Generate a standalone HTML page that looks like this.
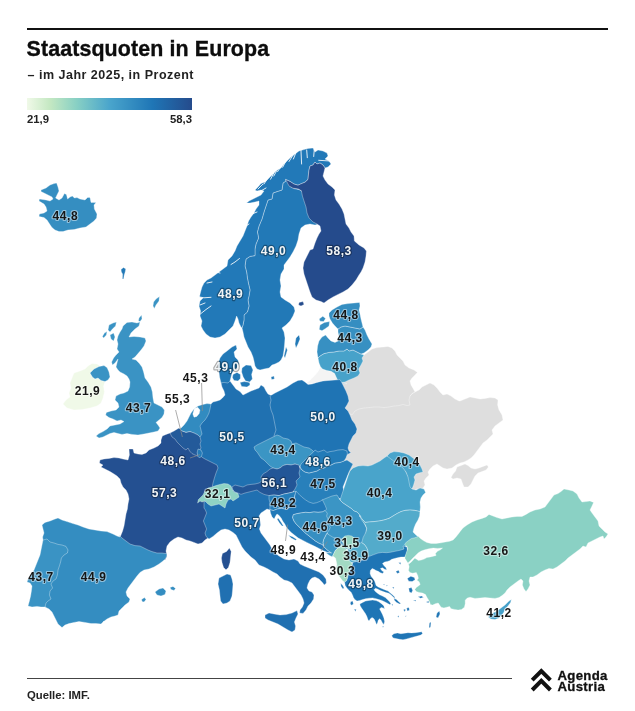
<!DOCTYPE html>
<html lang="de"><head><meta charset="utf-8"><title>Staatsquoten in Europa</title>
<style>
html,body{margin:0;padding:0;background:#fff;}
body{width:635px;height:711px;position:relative;overflow:hidden;font-family:"Liberation Sans","DejaVu Sans",sans-serif;color:#111;}
.rule{position:absolute;left:27px;top:28px;width:581px;height:2px;background:#111;}
h1{position:absolute;left:26.5px;top:37px;margin:0;font-size:21.4px;line-height:24px;font-weight:700;letter-spacing:.12px;color:#0d0d0d;white-space:nowrap;-webkit-text-stroke:.35px #0d0d0d;}
.sub{position:absolute;left:27.5px;top:68px;font-size:12.5px;line-height:14px;font-weight:700;letter-spacing:.5px;color:#222;white-space:nowrap;}
.bar{position:absolute;left:26.5px;top:97.5px;width:165.5px;height:12.5px;background:linear-gradient(90deg,#f0f9e8 0%,#c4e8c2 14%,#88d0c4 30%,#4aa5cc 50%,#1f76b6 76%,#254b8c 100%);}
.lmin,.lmax{position:absolute;top:112.5px;font-size:11.3px;line-height:13px;font-weight:700;color:#222;}
.lmin{left:27px;}
.lmax{left:140px;width:52px;text-align:right;}
.frule{position:absolute;left:27px;top:678px;width:485px;height:1px;background:#444;}
.src{position:absolute;left:27px;top:689px;font-size:11.3px;line-height:13px;font-weight:700;color:#222;white-space:nowrap;}
.logo{position:absolute;left:529px;top:665px;width:90px;height:32px;}
.brand{position:absolute;left:557.5px;top:669.6px;font-size:13.2px;line-height:11.2px;font-weight:700;color:#111;letter-spacing:.3px;-webkit-text-stroke:.3px #111;}
svg.map{position:absolute;left:0;top:0;}
svg.map path{stroke:#fff;stroke-opacity:.55;stroke-width:.6;stroke-linejoin:round;}
svg.map polyline.fj{fill:none;stroke:#fff;stroke-width:1;stroke-opacity:.85;stroke-linecap:round;}
svg.map line{stroke:#8a8a8a;stroke-width:.7;}
svg.map text{font-family:"Liberation Sans","DejaVu Sans",sans-serif;font-weight:700;font-size:12px;letter-spacing:.55px;text-anchor:middle;paint-order:stroke fill;stroke-linejoin:round;}
svg.map text.ld{fill:#161616;stroke:#fff;stroke-width:2.2px;stroke-opacity:.45;}
svg.map text.ll{fill:#f1f4f6;stroke:#000;stroke-width:2.4px;stroke-opacity:.33;}
</style></head><body>
<div class="rule"></div>
<h1>Staatsquoten in Europa</h1>
<div class="sub">– im Jahr 2025, in Prozent</div>
<div class="bar"></div><div class="lmin">21,9</div><div class="lmax">58,3</div>
<svg class="map" width="635" height="711" viewBox="0 0 635 711">
<g>
<path d="M41.0,190.0L46.0,188.0L50.0,185.0L54.0,183.6L56.6,183.0L58.0,187.0L59.0,191.0L57.0,195.0L55.6,198.0L59.0,200.0L62.0,198.0L64.4,193.6L66.4,194.4L67.6,199.0L70.0,197.0L72.4,196.0L74.4,198.0L77.0,197.6L80.0,199.0L85.0,200.0L87.6,197.4L90.0,197.4L91.0,202.4L96.0,202.4L94.0,205.0L94.4,209.0L97.0,214.0L96.6,218.0L94.0,221.0L90.0,224.0L86.0,227.0L80.0,228.0L74.0,229.6L68.0,230.0L63.0,231.6L59.0,231.6L55.0,230.0L52.0,227.6L49.6,224.0L47.0,220.0L44.0,217.6L39.0,216.4L39.4,214.0L44.0,213.0L47.0,211.0L46.0,207.0L44.0,204.0L39.0,201.0L39.4,199.0L46.0,200.0L50.0,201.0L53.0,199.0L52.0,197.0L48.0,195.0L44.0,193.0L41.0,191.6Z" fill="#358ec1"/>
<path d="M92.0,363.6L97.0,364.0L100.0,366.0L94.0,369.0L90.0,373.0L92.4,377.0L95.0,379.0L98.0,378.0L101.0,380.4L105.0,381.6L103.6,386.0L104.4,392.0L103.0,398.0L101.0,403.0L97.0,406.0L90.0,408.0L82.0,409.6L74.0,410.0L67.0,408.0L63.0,404.0L66.0,400.0L70.0,397.0L69.0,393.0L71.0,388.0L70.0,383.0L72.0,378.0L74.0,373.0L80.0,371.0L85.0,369.0L88.0,366.0Z" fill="#f0f9e8"/>
<path d="M123.0,326.0L127.0,322.4L132.0,322.0L137.0,323.0L140.0,322.0L139.0,326.0L135.0,329.0L131.0,333.0L129.0,337.0L134.0,336.4L140.0,337.0L145.0,338.0L146.0,341.0L144.0,346.0L141.0,350.0L138.0,353.6L135.0,357.0L132.0,359.0L136.0,360.0L139.0,363.0L142.0,367.0L143.6,372.0L145.0,378.0L148.0,382.0L151.0,387.0L152.4,392.0L153.0,398.0L154.0,403.0L158.0,405.0L162.0,407.0L164.4,410.0L164.0,414.0L162.0,417.6L159.0,420.0L156.0,422.4L158.0,425.0L160.0,428.0L158.0,431.0L154.0,432.0L149.0,433.0L144.0,434.0L138.0,435.0L132.0,434.4L127.0,433.6L122.0,434.4L118.0,433.6L114.0,432.4L110.0,433.6L107.0,435.0L103.0,437.0L99.0,438.0L96.0,436.0L99.0,433.6L103.0,431.6L107.0,429.0L110.0,426.0L115.0,425.0L120.0,424.0L124.0,421.6L121.0,420.0L117.0,421.0L113.0,419.0L109.0,417.6L105.6,415.0L106.4,412.4L111.0,411.0L116.0,410.0L119.0,407.0L118.0,403.0L115.0,400.0L116.0,396.0L120.0,394.0L124.0,393.0L128.0,391.0L129.6,387.0L130.0,382.0L129.0,379.0L127.0,376.0L124.0,374.0L120.0,372.0L118.0,370.0L116.0,367.0L117.0,363.0L118.0,359.0L115.0,363.0L112.4,365.0L111.6,362.0L113.6,358.0L116.0,355.0L119.0,352.0L117.0,349.0L118.0,344.0L117.0,340.0L118.0,336.0L120.0,332.0L122.0,329.0Z M156.0,299.0L159.4,296.6L159.0,301.0L156.0,305.0L154.4,308.4L153.0,306.0L153.6,302.0Z M139.0,318.0L141.6,315.0L142.0,319.0L140.0,321.6L138.4,321.0Z M109.0,325.0L113.0,323.0L116.4,322.0L115.6,326.0L112.4,329.0L110.0,332.0L108.0,330.0Z M104.4,333.0L107.0,331.6L106.4,335.0L103.6,338.0L102.4,336.4Z M110.0,335.0L113.6,333.0L115.0,337.0L113.6,341.0L111.0,339.0Z M90.0,373.0L94.0,369.0L99.0,366.6L104.0,365.6L107.0,367.6L109.0,372.0L110.0,377.0L108.0,380.0L105.0,381.6L101.0,380.4L98.0,378.0L95.0,379.0L92.4,377.0Z" fill="#3a93c4"/>
<path d="M286.0,179.0L287.0,180.8L290.0,186.4L294.0,188.6L299.0,189.6L302.0,191.2L303.4,196.0L305.0,201.0L307.0,207.0L308.0,213.0L310.0,218.0L314.0,221.6L318.0,223.6L317.0,224.4L315.0,225.0L310.0,224.0L305.0,225.0L301.0,228.0L299.0,234.0L298.0,240.0L296.0,246.0L293.0,252.0L290.0,257.0L287.0,261.0L284.0,265.0L284.0,269.0L281.0,274.0L280.0,280.0L281.0,286.0L280.0,292.0L281.0,297.0L285.0,300.0L290.0,303.0L294.0,307.0L295.0,311.0L293.0,316.0L290.0,321.0L286.0,325.0L282.0,328.0L284.0,332.0L285.0,338.0L284.6,344.0L284.0,350.0L283.0,356.0L281.0,360.0L279.0,362.0L275.0,364.0L272.0,365.0L269.0,368.0L264.0,369.0L260.0,370.0L257.0,369.0L255.0,366.0L254.0,361.0L253.0,357.0L251.0,352.0L248.0,347.0L246.0,342.0L244.0,337.0L243.0,332.0L242.0,328.0L243.0,325.0L244.0,320.0L244.0,315.0L247.4,312.0L249.0,306.0L248.0,300.0L249.0,296.0L250.0,290.0L248.6,284.0L247.4,278.0L246.6,272.0L245.0,266.0L246.0,259.0L250.0,256.4L255.0,255.6L255.0,250.0L255.0,249.0L256.0,244.0L258.6,238.0L257.4,232.0L259.0,226.0L262.0,219.0L264.0,212.0L266.0,206.0L268.0,200.0L272.0,199.0L273.0,193.0L277.0,191.6L282.0,190.0L283.0,183.0L286.0,181.0Z M296.0,338.0L299.0,335.0L300.0,339.0L298.0,344.0L296.0,348.0L295.0,344.0Z M286.0,347.0L287.4,350.0L285.0,358.0L284.0,356.0Z" fill="#2279b7"/>
<path d="M325.0,168.0L328.0,167.0L331.0,164.0L329.0,161.0L325.0,159.0L328.0,156.0L327.0,153.0L323.0,151.0L318.0,150.0L315.0,152.0L313.0,148.0L308.0,148.4L304.0,149.6L299.0,151.0L295.0,154.0L291.0,157.0L287.0,161.0L284.0,164.0L281.0,168.0L277.0,170.0L274.0,173.0L271.0,176.0L268.0,179.0L265.0,182.0L261.0,183.6L258.0,187.0L255.0,190.0L257.0,191.0L261.0,190.0L264.0,191.0L261.0,195.0L257.0,197.0L253.0,199.0L249.0,201.0L246.6,203.0L250.0,203.0L255.0,202.0L259.0,201.0L259.0,205.0L256.0,209.0L254.0,213.0L251.0,217.0L248.6,221.0L247.0,226.0L245.0,231.0L243.0,236.0L240.0,241.0L237.0,246.0L235.0,251.0L232.0,256.0L228.0,260.0L227.0,266.0L223.0,269.0L219.0,272.0L215.0,275.0L211.0,278.0L207.0,280.0L204.0,283.0L202.0,287.0L200.6,292.0L199.4,297.0L203.0,298.0L200.0,301.0L199.0,306.0L200.6,311.0L200.0,316.0L202.0,321.0L201.0,326.0L203.0,330.0L206.0,334.0L210.0,337.0L215.0,338.0L220.0,337.0L225.0,334.0L229.0,330.0L233.0,326.0L235.0,321.0L236.6,316.0L238.0,319.0L239.0,323.0L241.0,327.0L242.0,328.0L243.0,325.0L244.0,320.0L244.0,315.0L247.4,312.0L249.0,306.0L248.0,300.0L249.0,296.0L250.0,290.0L248.6,284.0L247.4,278.0L246.6,272.0L245.0,266.0L246.0,259.0L250.0,256.4L255.0,255.6L255.0,250.0L255.0,249.0L256.0,244.0L258.6,238.0L257.4,232.0L259.0,226.0L262.0,219.0L264.0,212.0L266.0,206.0L268.0,200.0L272.0,199.0L273.0,193.0L277.0,191.6L282.0,190.0L283.0,183.0L286.0,181.0L285.6,179.4L290.0,181.4L294.0,184.0L298.0,185.2L301.0,183.8L305.0,182.2L308.0,179.4L308.4,175.0L309.0,170.0L310.0,166.0L313.0,165.0L315.0,162.0L317.0,164.0L320.0,163.0L323.0,165.0Z" fill="#2279b8"/>
<path d="M285.6,179.4L290.0,181.4L294.0,184.0L298.0,185.2L301.0,183.8L305.0,182.2L308.0,179.4L308.4,175.0L309.0,170.0L310.0,166.0L313.0,165.0L315.0,162.0L317.0,164.0L320.0,163.0L323.0,165.0L325.0,168.0L324.0,172.0L323.0,176.0L325.0,180.0L328.0,184.0L332.0,187.0L335.0,190.0L334.4,195.0L336.0,200.0L339.0,204.0L342.0,209.0L344.0,214.0L345.0,219.0L346.0,224.0L349.0,228.0L351.0,232.0L354.0,236.0L354.4,241.0L359.0,245.0L364.0,248.0L366.4,251.0L366.0,256.0L365.0,262.0L363.0,268.0L361.0,272.0L359.0,275.0L356.0,280.0L352.0,285.0L348.0,289.0L343.0,292.0L338.0,294.4L333.0,297.0L328.0,300.0L324.0,303.0L321.0,301.6L316.0,300.0L312.0,297.0L310.0,292.0L308.0,286.0L306.0,280.0L304.0,274.0L303.0,268.0L304.0,262.0L307.0,256.0L310.0,250.0L313.0,249.0L315.0,243.0L317.0,238.0L319.0,234.0L321.0,231.0L320.0,226.0L317.0,224.0L313.0,222.0L309.0,218.0L307.0,213.0L306.0,207.0L304.0,201.0L302.4,196.0L301.4,190.8L298.4,189.0L293.0,188.2L289.0,186.0Z M299.0,302.4L303.0,301.6L304.0,304.4L301.0,306.0L298.6,305.0Z" fill="#254b8c"/>
<path d="M347.0,414.0L351.0,404.0L407.0,398.0L410.0,396.0L412.0,393.6L415.0,392.0L419.0,390.0L422.0,387.0L426.0,385.0L430.0,383.0L434.0,385.0L437.0,388.0L440.0,392.0L443.0,395.0L447.0,394.0L451.0,396.0L455.0,399.0L459.0,401.0L460.0,401.0L465.0,399.0L470.0,397.0L475.0,398.0L480.0,399.0L485.0,398.4L490.0,397.6L495.0,398.0L498.0,400.0L497.6,405.0L499.0,410.0L502.0,415.0L503.0,420.0L499.0,423.0L495.0,426.0L492.0,430.0L493.0,434.0L490.0,437.0L487.0,440.0L483.0,443.0L480.0,447.0L477.0,451.0L474.0,455.0L471.0,458.0L468.0,460.0L464.0,462.0L460.0,463.0L456.0,465.0L452.0,468.0L447.0,469.0L443.0,468.0L440.0,466.0L437.0,464.0L433.0,466.0L430.0,469.0L428.0,472.0L429.0,475.0L426.0,478.0L424.0,481.0L425.0,485.0L423.0,488.0L420.0,490.0L417.0,489.0L414.0,490.0L410.0,488.0L395.0,470.0L360.0,480.0L340.0,470.0Z M457.0,467.0L461.0,465.6L465.0,464.0L468.0,465.6L471.0,468.0L475.0,469.0L479.0,468.0L483.0,466.4L487.0,465.0L488.4,467.0L486.0,470.0L482.0,471.6L478.0,473.0L475.0,476.0L473.0,480.0L471.0,484.0L468.0,487.0L464.0,487.0L462.4,483.0L461.0,479.0L457.0,478.0L453.0,479.0L451.0,477.6L453.0,474.0L455.6,471.0Z" fill="#dedede"/>
<path d="M364.0,355.0L368.0,352.0L372.0,349.0L377.0,347.6L383.0,347.0L388.0,346.4L392.0,348.0L395.0,351.0L397.0,355.0L400.0,358.0L403.0,361.0L405.0,365.0L409.0,368.0L414.0,370.0L417.4,372.4L415.0,375.0L412.0,378.0L410.0,381.0L411.0,385.0L413.4,389.0L415.0,392.0L412.0,393.6L410.0,396.0L409.0,400.0L410.0,405.0L407.0,405.6L403.0,404.4L399.0,405.6L394.0,406.0L389.0,407.0L384.0,407.6L379.0,407.0L374.0,407.0L369.0,407.6L364.0,408.0L359.0,409.0L355.0,411.0L352.0,415.0L343.0,410.0L341.0,384.0L355.0,356.0Z" fill="#dedede"/>
<path d="M320.5,367.0L322.6,369.1L326.8,370.5L331.1,371.3L334.6,373.4L336.1,376.9L337.5,379.8L338.2,381.9L325.4,381.9L312.7,383.7L305.6,383.7L309.8,380.5L314.1,376.2L318.3,371.3Z" fill="#f4f4f4"/>
<path d="M318.0,358.0L320.0,356.0L324.0,353.6L329.0,352.4L334.0,352.0L339.0,351.0L344.0,351.0L347.0,349.0L349.0,351.0L353.0,350.0L357.0,352.0L361.0,354.0L364.0,355.0L362.0,358.0L363.0,361.0L361.0,365.0L358.6,369.0L360.0,373.0L358.0,376.0L354.0,378.0L349.0,380.0L345.0,382.0L342.0,382.4L346.7,383.7L343.1,383.3L339.6,381.9L337.5,379.8L336.1,376.9L334.6,373.4L331.1,371.3L326.8,370.5L322.6,369.1L320.5,367.0L321.0,368.0L319.0,363.0Z" fill="#47a2ca"/>
<path d="M338.0,329.0L341.0,327.0L345.0,326.0L350.0,327.0L355.0,328.0L360.0,329.0L363.0,327.0L365.0,330.0L367.0,335.0L369.0,339.0L372.0,344.0L371.0,347.0L368.0,350.0L364.0,353.0L361.0,354.0L357.0,352.0L353.0,350.0L349.0,351.0L347.0,349.0L344.0,351.0L339.0,351.0L334.0,352.0L329.0,352.4L324.0,353.6L320.0,356.0L318.0,358.0L317.0,352.0L317.6,346.0L319.0,341.0L322.0,337.0L325.6,335.0L328.0,338.0L331.0,341.0L335.0,342.4L338.0,341.0L339.0,337.0L338.0,332.0Z" fill="#3790c2"/>
<path d="M329.0,313.0L332.0,310.0L337.0,307.0L342.0,304.4L348.0,303.6L354.0,303.0L359.6,302.4L360.0,306.0L359.0,310.0L360.0,314.0L361.0,319.0L362.0,323.0L363.0,327.0L360.0,329.0L355.0,328.0L350.0,327.0L345.0,326.0L341.0,327.0L338.0,329.0L335.0,326.0L332.4,323.0L330.0,319.0L329.0,316.0Z M319.2,319.0L322.8,316.2L325.6,318.6L323.6,321.6L320.0,321.2Z M320.0,325.0L324.4,322.4L329.6,321.6L329.0,326.0L325.6,328.4L322.0,330.8L319.2,329.4Z" fill="#358ec1"/>
<path d="M221.0,383.0L222.0,387.0L224.0,391.0L225.0,395.0L222.4,398.0L220.0,400.0L217.0,401.0L213.0,402.0L211.0,404.0L200.0,406.0L190.0,436.0L194.0,452.0L190.0,490.0L215.0,495.0L240.0,495.0L290.0,480.0L295.0,460.0L270.0,450.0L280.0,435.0L285.0,420.0L280.0,395.0L270.0,395.0L268.0,394.0L266.0,391.0L264.0,387.0L261.0,385.0L259.0,388.0L255.0,389.6L251.0,391.0L247.0,393.0L243.0,395.0L240.0,391.6L236.0,389.0L233.0,385.0L230.0,381.0L224.0,381.0Z" fill="#2071b1"/>
<path d="M170.0,433.0L176.0,435.0L190.0,446.0L199.0,454.0L201.6,457.0L205.0,459.0L209.0,461.0L213.0,463.0L217.0,465.0L218.0,468.0L216.0,473.0L214.4,478.0L213.0,483.0L212.4,486.0L218.0,494.0L214.0,504.0L213.0,520.0L210.6,535.6L208.0,538.0L205.0,540.0L202.0,543.0L198.0,544.0L194.0,542.4L190.0,541.0L186.0,540.0L182.0,538.0L178.0,537.0L174.0,539.0L170.0,542.0L167.0,546.0L166.0,551.0L167.0,556.0L165.0,560.0L119.0,542.0L120.0,537.0L121.0,535.0L122.6,531.0L124.0,526.0L125.0,520.0L126.0,514.0L127.4,509.0L128.0,504.0L129.0,499.0L128.0,494.0L126.0,490.0L123.0,487.0L121.0,483.0L120.0,479.0L117.0,476.0L114.0,474.0L110.0,471.6L105.0,469.0L101.0,467.0L103.0,465.0L99.4,463.0L100.0,460.0L104.0,459.0L109.0,458.4L114.0,457.6L119.0,458.0L123.0,459.0L128.0,460.0L129.4,455.0L129.0,449.0L133.0,449.0L134.0,453.0L138.0,454.0L142.0,454.4L146.0,453.0L149.0,450.0L154.0,448.0L158.0,446.0L161.0,443.0L161.0,440.0L162.4,436.0L166.0,434.4Z" fill="#245091"/>
<path d="M222.4,553.6L226.6,551.4L229.4,548.0L231.2,551.6L230.6,557.0L230.0,562.4L228.4,567.6L226.0,569.8L223.6,567.6L222.0,562.4L221.4,558.0Z" fill="#245091"/>
<path d="M42.0,525.0L45.0,522.4L50.0,521.0L55.0,519.0L58.0,518.0L62.0,520.0L67.0,521.6L73.0,523.6L78.0,525.0L83.0,527.0L89.0,529.0L95.0,530.0L101.0,531.0L107.0,531.6L113.0,534.0L117.0,536.0L120.0,537.0L119.0,535.0L122.0,538.0L126.0,541.0L130.0,544.0L135.0,545.6L140.0,546.0L144.0,548.0L148.0,550.0L152.0,551.6L157.0,553.0L162.0,553.0L166.0,553.6L167.0,554.0L166.0,558.0L163.0,561.0L159.0,564.0L154.0,567.0L149.0,569.0L144.0,570.0L140.0,572.4L137.0,576.0L134.0,580.0L131.0,584.0L128.0,588.0L126.0,592.0L127.0,596.0L130.0,599.0L129.0,602.0L125.0,605.0L122.0,608.0L119.0,611.0L118.0,615.0L115.0,616.0L111.0,617.0L107.0,619.0L103.0,622.0L104.0,621.0L101.0,624.0L96.0,623.6L91.0,623.6L85.0,622.4L79.0,621.6L74.0,622.4L69.0,623.6L65.0,625.0L62.0,627.6L58.0,624.0L56.0,620.0L54.0,616.0L52.0,612.0L49.0,609.0L45.0,607.0L35.0,582.0L45.0,542.0L43.0,540.0L42.6,537.0L44.0,533.0L43.0,529.0Z M155.0,592.0L159.0,589.0L163.0,588.0L166.0,591.0L165.0,594.4L161.0,596.0L157.0,595.0Z M170.0,587.6L173.0,586.4L175.6,588.4L174.0,590.4L171.0,589.6Z M141.6,599.6L144.4,597.6L146.0,599.6L144.0,602.0L142.0,601.6Z" fill="#348dc1"/>
<path d="M43.0,540.0L47.0,539.0L50.0,542.0L54.0,543.0L58.0,544.4L62.0,545.0L66.0,546.4L68.0,550.0L67.4,553.0L64.0,555.0L61.4,558.0L60.6,562.0L59.4,566.0L58.0,570.0L57.4,575.0L56.0,579.0L53.0,581.0L51.0,584.0L52.6,588.0L50.0,591.0L49.4,595.0L51.0,599.0L48.0,601.0L46.0,603.0L45.0,607.0L41.0,607.0L37.0,606.4L32.0,607.0L28.0,606.0L29.4,601.0L30.6,596.0L31.4,591.0L32.0,586.0L30.0,583.0L27.0,582.0L28.0,579.0L31.0,575.0L34.0,570.0L36.0,565.0L38.0,560.0L40.0,555.0L41.0,550.0L42.0,545.0Z" fill="#3a93c4"/>
<path d="M209.0,539.0L206.0,536.4L205.0,533.0L206.6,529.0L205.0,525.0L203.4,521.0L205.0,517.0L206.6,513.0L205.4,510.0L204.0,508.0L204.0,502.0L215.0,495.0L235.0,490.0L240.0,488.0L268.0,488.0L273.0,497.0L273.0,506.0L270.4,508.0L270.0,510.0L267.0,509.0L264.0,511.0L261.0,513.0L259.0,516.0L260.0,520.0L260.6,525.0L259.4,529.0L261.0,533.0L264.0,537.0L267.0,541.0L270.0,545.0L272.0,549.0L275.0,553.0L279.0,556.0L284.0,559.0L289.0,560.0L294.0,559.0L298.0,561.0L300.0,564.0L304.0,566.0L309.0,568.0L314.0,570.0L319.0,572.0L323.0,575.0L326.0,579.0L326.4,583.0L324.4,585.0L322.0,582.0L319.0,579.0L315.0,577.0L312.0,578.0L310.0,580.0L308.0,584.0L307.0,588.0L309.0,591.0L312.0,592.0L314.0,595.0L313.6,599.0L311.0,603.0L308.0,606.0L306.0,610.0L303.0,613.4L299.6,613.0L300.0,610.0L302.4,607.0L304.0,603.0L303.0,599.0L301.0,595.0L298.0,591.0L295.0,587.0L292.0,583.0L288.0,581.0L284.0,580.0L280.0,577.0L277.0,574.0L273.0,572.0L268.0,569.0L264.0,567.0L259.0,565.0L255.0,560.0L251.0,557.0L248.0,554.0L245.0,551.0L242.0,547.0L240.0,543.0L238.0,539.0L236.0,535.0L233.0,532.4L229.0,530.0L225.0,529.0L221.0,530.0L217.0,533.0L213.0,536.4Z M219.0,578.0L223.0,576.0L227.0,574.0L230.6,575.0L232.0,579.0L233.0,584.0L232.6,590.0L232.0,596.0L230.0,601.0L227.0,603.0L223.0,604.0L220.6,601.0L220.0,596.0L219.4,590.0L218.0,584.0Z M265.0,615.0L269.0,613.0L274.0,614.0L280.0,615.0L286.0,614.6L292.0,613.0L297.0,610.6L298.0,614.0L296.0,618.0L294.4,622.0L295.6,626.0L295.0,630.0L292.0,632.0L288.0,630.0L283.0,627.0L278.0,624.0L273.0,622.0L268.0,620.0L265.0,618.0Z" fill="#2070b1"/>
<path d="M270.0,396.0L275.0,393.0L281.0,390.0L287.0,387.0L293.0,383.0L298.0,380.4L302.0,380.0L305.0,382.0L308.0,384.4L312.0,384.0L317.0,382.4L323.0,381.0L329.0,380.4L335.0,380.0L340.0,379.6L342.0,383.0L344.0,387.0L346.0,391.0L348.0,396.0L349.0,401.0L347.0,405.0L345.0,408.0L348.0,411.0L350.0,415.0L352.0,420.0L355.0,424.0L357.0,429.0L356.0,433.0L353.0,436.0L351.0,440.0L349.0,444.0L348.0,448.0L349.0,451.0L351.0,452.4L345.0,456.0L315.0,456.0L295.0,446.0L277.0,440.0L274.0,436.0L274.6,434.0L276.0,430.0L275.0,425.0L274.0,420.0L273.0,415.0L271.0,410.0L270.0,405.0L271.0,400.0Z" fill="#1f74b4"/>
<path d="M254.0,447.0L257.0,445.0L261.0,443.0L265.0,441.0L269.0,439.0L273.0,437.0L277.0,435.0L280.0,436.0L283.0,438.0L288.0,439.0L291.0,441.0L292.0,444.0L296.0,443.0L300.0,445.0L304.0,447.0L309.0,448.0L312.0,450.0L315.0,453.0L312.0,456.0L309.0,458.0L307.0,461.0L305.0,465.0L300.0,466.4L295.0,464.0L291.0,465.0L287.0,464.4L283.0,465.6L280.0,468.0L277.0,469.0L273.0,468.0L270.0,466.0L267.0,463.0L264.0,460.0L261.0,458.0L259.0,455.0L257.0,452.0L255.0,450.0Z" fill="#3b95c4"/>
<path d="M300.0,467.0L302.0,470.0L305.0,472.0L309.0,473.0L313.0,472.0L317.0,471.0L320.0,469.0L324.0,468.0L327.0,466.0L331.0,465.0L335.0,463.0L340.0,462.4L344.0,461.0L347.0,460.0L350.0,462.0L353.0,464.0L351.0,468.0L349.0,472.0L347.0,477.0L345.0,482.0L343.0,487.0L346.0,500.0L337.0,498.0L332.0,500.0L327.0,502.0L322.0,504.4L316.0,506.4L310.0,505.6L305.0,503.6L300.0,500.4L296.0,495.6L293.0,490.0L292.0,482.0Z" fill="#2880bb"/>
<path d="M315.0,450.0L318.0,452.0L321.0,451.0L324.0,450.0L327.0,452.4L330.0,451.6L334.0,451.0L338.0,450.0L343.0,449.6L347.0,451.0L347.4,454.0L346.0,458.0L344.0,461.0L340.0,462.4L335.0,463.0L331.0,465.0L327.0,466.0L324.0,468.0L320.0,469.0L317.0,471.0L313.0,472.0L309.0,473.0L305.0,472.0L302.0,470.0L300.0,467.0L301.0,464.0L304.0,461.0L307.0,458.0L310.0,455.0L313.0,452.4Z" fill="#237bb8"/>
<path d="M232.0,487.0L235.0,485.0L239.0,486.0L243.0,487.0L247.0,485.0L251.0,484.4L255.0,484.0L259.0,483.0L262.0,481.0L261.0,477.0L263.0,474.0L267.0,471.6L270.0,469.0L273.0,468.0L277.0,469.0L280.0,468.0L283.0,465.6L287.0,464.4L291.0,465.0L295.0,464.0L299.0,465.0L300.0,469.0L299.0,473.0L300.0,477.0L298.0,479.0L296.0,481.0L297.0,485.0L295.0,489.0L293.0,492.0L289.0,493.0L284.0,494.0L279.0,495.6L274.0,495.0L269.0,495.6L264.0,494.4L260.0,492.4L257.0,490.0L253.0,491.0L249.0,492.0L245.0,493.0L241.0,494.4L238.0,493.0L235.0,492.0L233.0,490.0Z" fill="#235697"/>
<path d="M200.0,498.0L203.0,495.0L205.0,491.0L208.0,488.0L212.0,487.0L216.0,485.6L220.0,484.4L224.0,483.6L228.0,484.0L231.0,486.0L232.0,489.0L234.0,492.0L238.0,493.6L239.0,497.0L236.0,499.0L233.0,501.0L231.0,499.0L228.0,500.0L226.0,504.0L225.0,508.0L222.0,506.0L219.0,504.0L215.0,505.0L211.0,506.0L208.0,504.0L205.0,501.0L202.0,502.0L200.0,501.0L197.6,503.0L198.4,499.6Z" fill="#8fd3c4"/>
<path d="M269.0,495.6L274.0,495.0L279.0,495.6L284.0,494.0L289.0,493.0L293.0,492.0L296.1,491.3L295.4,493.5L294.7,496.3L294.0,499.8L292.6,502.7L290.5,505.5L288.3,508.3L284.8,509.1L281.3,508.3L277.0,509.1L273.5,510.5L269.9,509.8L270.0,503.0L269.0,499.0Z" fill="#257db9"/>
<path d="M211.0,404.0L207.0,403.6L203.0,404.4L198.0,406.0L194.0,409.0L191.0,413.0L189.0,417.0L187.0,421.0L184.0,425.0L181.0,428.0L178.0,430.0L182.0,431.0L186.0,432.4L190.0,431.6L194.0,433.0L198.0,435.0L200.0,437.0L202.0,434.0L201.0,430.0L200.0,426.0L202.0,423.0L205.0,420.0L207.0,417.0L209.0,413.0L210.0,409.0Z" fill="#328bc0"/>
<path d="M194.4,408.6L197.6,407.2L200.0,410.0L199.2,413.6L196.8,416.4L194.0,417.2L192.8,414.0Z" fill="#ffffff"/>
<path d="M170.0,433.0L174.0,431.0L179.0,428.0L182.0,431.0L186.0,432.4L190.0,431.6L194.0,433.0L198.0,435.0L200.0,437.0L201.0,441.0L200.0,444.0L201.0,448.0L198.0,452.4L198.0,456.0L195.0,455.0L192.0,453.6L189.6,451.0L188.0,448.0L186.0,450.0L183.0,448.0L180.0,445.0L177.0,442.0L175.0,439.0L172.0,437.0Z" fill="#235a9a"/>
<path d="M198.0,449.0L201.0,450.0L202.4,453.0L201.6,456.0L199.6,458.0L197.6,456.0L197.2,452.4Z" fill="#237bb8"/>
<path d="M220.0,358.0L223.0,354.0L227.0,351.0L232.0,347.0L236.0,345.0L237.0,349.0L234.0,352.0L235.0,357.0L238.0,360.0L239.0,364.0L237.0,368.0L234.0,370.0L232.0,373.0L231.0,377.0L230.0,381.0L228.0,383.0L224.0,382.4L221.0,383.0L219.6,377.0L219.0,372.0L218.0,366.0L219.0,361.0Z M233.0,374.4L237.0,372.4L240.4,374.4L240.4,378.4L238.0,381.0L234.0,380.4L232.4,377.6Z M242.0,368.0L246.0,365.0L251.0,365.6L253.0,370.0L251.6,374.4L252.4,379.0L249.6,382.0L245.6,381.0L243.2,377.0L241.6,372.0Z M240.0,382.4L244.4,381.6L249.6,382.4L250.0,385.0L247.0,387.0L241.6,386.4Z M271.0,377.0L274.0,376.0L274.4,379.0L271.6,379.6Z M121.0,269.5L123.5,267.5L125.8,269.0L125.2,272.0L124.2,275.0L123.6,279.0L122.4,279.0L122.6,274.0L121.4,272.0Z" fill="#2279b7"/>
<path d="M340.0,500.0L342.0,494.0L344.0,488.0L346.0,482.0L348.0,476.0L350.0,471.0L353.0,468.0L358.0,466.0L363.0,465.6L368.0,466.0L372.0,465.0L376.0,463.0L380.0,461.0L384.0,458.0L387.0,456.0L400.0,460.0L410.0,480.0L412.0,489.0L416.0,490.0L420.0,488.0L424.0,489.0L425.6,492.4L423.0,495.0L421.0,498.0L420.0,502.0L420.4,507.0L420.0,511.0L420.0,511.6L415.0,510.4L410.0,510.0L405.0,510.4L401.0,511.6L397.0,513.6L393.0,516.0L389.0,518.4L384.0,520.0L379.0,521.0L374.0,521.6L369.0,522.0L365.0,522.4L363.0,520.0L361.0,518.0L360.0,517.0L359.0,514.0L357.0,512.0L354.0,511.0L352.0,509.0L349.0,507.0L346.0,505.0L343.0,503.0Z" fill="#49a4cb"/>
<path d="M387.0,456.0L390.0,453.0L394.0,451.6L399.0,452.0L404.0,453.0L409.0,455.0L413.0,458.0L417.0,461.0L420.0,465.0L422.0,469.0L423.0,472.0L419.0,473.0L416.0,474.0L414.0,477.0L415.0,480.0L413.6,485.0L412.0,489.0L410.0,487.0L409.0,482.0L408.0,477.0L406.0,472.0L403.0,468.0L399.0,465.0L395.0,462.0L391.0,459.0Z" fill="#49a4cb"/>
<path d="M322.0,500.0L327.0,498.0L332.0,496.0L337.0,495.0L340.0,500.0L343.0,503.0L346.0,505.0L349.0,507.0L352.0,509.0L354.0,511.0L357.0,512.0L359.0,514.0L360.0,517.0L360.3,515.6L363.9,522.7L366.7,528.3L365.3,536.8L362.4,542.5L356.8,548.2L345.4,548.9L338.3,546.8L327.0,533.3L324.2,514.2L322.0,510.0Z" fill="#3b95c5"/>
<path d="M269.9,509.8L273.5,510.5L277.0,509.1L281.3,508.3L284.8,509.1L288.3,508.3L290.5,505.5L292.6,502.7L294.0,499.8L294.7,496.3L295.4,493.5L296.1,491.3L299.0,494.2L301.8,497.0L305.4,499.8L308.9,502.0L313.1,503.4L316.7,502.7L320.2,501.3L322.4,499.8L323.8,502.7L325.2,505.5L326.6,509.1L325.2,510.5L322.4,511.9L318.1,512.3L313.9,511.9L309.6,512.6L305.4,512.3L301.1,512.9L296.8,513.7L293.3,514.7L292.6,517.6L294.0,521.1L296.1,523.9L299.0,526.8L301.8,529.6L304.6,532.4L308.2,535.3L311.7,538.1L315.3,540.9L318.8,543.1L322.4,544.5L323.8,546.6L326.6,549.4L329.4,551.6L331.6,553.0L328.0,552.6L323.8,550.9L319.5,548.7L315.3,546.6L311.0,544.5L306.8,542.4L302.5,540.2L298.3,538.1L294.7,535.3L291.2,532.4L288.3,529.6L286.2,526.8L284.8,523.9L282.7,521.1L281.3,518.3L279.1,515.4L277.0,514.0L275.6,516.1L274.2,519.0L272.0,516.8L270.6,513.3Z M277.0,519.0L278.4,518.3L281.3,522.5L283.4,526.1L282.0,526.1L279.1,522.5Z M288.3,535.3L292.6,536.7L296.8,539.5L295.4,540.2L291.2,538.1Z" fill="#2279b8"/>
<path d="M325.2,510.5L322.4,511.9L318.1,512.3L313.9,511.9L309.6,512.6L305.4,512.3L301.1,512.9L296.8,513.7L293.3,514.7L292.6,517.6L294.0,521.1L296.1,523.9L299.0,526.8L301.8,529.6L304.6,532.4L308.2,535.3L311.7,538.1L315.3,540.9L318.8,543.1L322.4,544.5L323.8,546.6L323.1,542.4L323.8,539.5L325.2,536.7L326.6,533.9L328.0,531.7L329.4,529.6L330.2,527.5L328.7,524.6L329.4,521.8L328.0,519.0L326.6,516.1L327.3,513.3Z" fill="#368fc2"/>
<path d="M326.6,533.9L325.2,536.7L323.8,539.5L323.1,542.4L323.8,546.6L326.6,549.4L329.4,551.6L331.6,553.0L325.6,552.4L329.1,555.3L332.0,556.7L332.7,556.0L334.1,553.1L335.5,550.3L337.6,548.2L340.5,546.8L341.9,544.6L342.6,541.8L341.9,539.0L339.1,539.7L336.2,538.3L332.7,537.1L329.8,535.4L327.0,533.3Z" fill="#3b95c4"/>
<path d="M341.9,539.0L344.7,536.1L348.3,535.4L351.8,536.1L354.6,538.3L356.8,541.1L358.2,543.9L356.1,546.1L353.2,547.5L350.4,548.2L347.6,548.9L345.4,546.8L344.0,543.9L342.6,541.8Z" fill="#96d5c4"/>
<path d="M332.7,556.0L334.1,553.1L335.5,550.3L337.6,548.2L340.5,546.8L341.9,544.6L344.0,546.8L346.1,548.9L347.6,551.7L347.1,554.6L348.0,557.4L349.0,560.2L351.1,562.4L352.5,564.5L351.1,566.6L350.4,569.4L349.0,572.3L348.3,575.1L347.6,577.9L346.6,580.8L344.7,582.2L342.6,580.8L340.5,577.9L338.3,575.1L336.9,571.6L336.2,568.0L336.9,564.5L336.2,560.9L335.5,558.1Z" fill="#a2dac3"/>
<path d="M347.6,548.9L350.4,548.2L353.2,547.5L356.1,546.1L358.2,543.9L361.7,542.5L364.6,544.6L366.7,547.5L368.1,551.0L367.4,554.6L366.0,557.4L363.1,559.5L359.6,560.9L356.1,561.6L352.5,562.4L351.1,562.4L349.0,560.2L348.0,557.4L347.1,554.6L347.6,551.7Z" fill="#54accb"/>
<path d="M360.0,517.0L361.0,518.0L363.0,520.0L365.0,522.4L369.0,522.0L374.0,521.6L379.0,521.0L384.0,520.0L389.0,518.4L393.0,516.0L397.0,513.6L401.0,511.6L405.0,510.4L410.0,510.0L415.0,510.4L420.0,511.6L419.6,516.0L418.0,520.0L415.6,524.0L414.0,528.0L413.0,532.0L416.0,535.0L419.0,537.6L418.0,538.0L414.0,539.0L410.0,540.0L407.0,543.0L406.0,546.0L405.0,547.0L407.0,550.0L404.0,552.0L400.0,553.0L395.0,553.6L390.0,554.4L385.0,555.0L380.0,556.0L375.0,557.0L370.0,558.0L368.0,557.0L367.4,554.6L368.1,551.0L366.7,547.5L364.6,544.6L361.7,542.5L362.4,540.4L363.1,537.6L364.6,534.7L366.0,531.9L366.7,528.3L365.3,524.8L363.1,522.0L361.0,519.1L360.3,515.6Z" fill="#53abcb"/>
<path d="M344.7,582.2L346.6,580.8L347.6,577.9L348.3,575.1L349.0,572.3L350.4,569.4L351.1,566.6L352.5,564.5L352.5,562.4L356.1,561.6L359.6,560.9L363.1,559.5L366.0,557.4L366.7,556.7L370.2,556.0L373.8,554.6L378.0,553.1L382.3,552.4L386.5,552.7L390.8,552.2L395.0,551.3L400.0,550.3L404.0,549.0L403.0,546.0L407.0,547.0L407.4,551.0L406.0,555.0L405.0,557.0L405.0,557.0L400.9,557.1L397.4,557.8L394.5,558.5L391.7,559.3L389.6,560.7L387.4,561.4L384.6,562.1L382.5,563.5L383.9,565.6L386.0,567.8L386.7,569.9L384.6,569.2L382.5,567.8L380.4,568.5L381.8,570.6L383.9,572.0L382.5,573.4L380.4,572.7L378.2,571.3L376.1,570.6L374.0,569.2L372.1,568.5L370.4,570.6L370.1,573.4L371.1,576.3L373.3,579.1L374.7,581.2L375.4,583.3L376.1,585.5L378.2,586.9L381.1,588.3L384.6,589.7L388.1,591.1L390.3,593.0L392.4,594.7L394.5,596.8L395.2,598.9L393.8,597.5L391.7,595.4L388.9,593.3L386.0,592.6L383.2,591.6L380.4,590.4L377.5,589.0L375.4,588.3L374.0,589.7L375.4,591.6L377.5,593.3L379.6,594.7L382.5,596.1L385.3,597.5L387.4,599.6L389.6,601.8L391.0,603.9L389.6,604.6L387.4,603.2L384.6,601.8L381.8,600.4L378.9,599.6L376.1,598.7L372.6,597.9L369.0,598.2L365.5,598.7L362.6,599.6L359.8,600.4L357.0,601.1L354.8,599.6L353.4,597.5L352.7,595.4L351.3,592.6L349.2,590.4L347.0,588.3L345.2,585.5L344.6,582.2Z M359.8,603.9L362.6,602.5L365.5,601.1L369.0,600.4L372.6,600.1L376.1,600.6L378.9,601.8L381.8,603.9L383.9,606.0L384.6,608.9L383.2,608.1L381.1,607.4L379.6,608.9L381.1,611.7L382.5,614.5L383.9,618.1L384.6,621.6L383.9,624.4L382.5,623.0L381.1,620.2L379.6,618.8L378.2,620.2L377.5,623.0L376.4,624.4L375.4,621.6L374.0,618.8L372.1,617.4L370.4,618.8L369.0,620.9L367.9,619.5L366.9,616.6L365.5,613.8L364.1,611.7L362.6,609.6L361.2,607.4L360.2,605.7Z M391.7,635.8L393.8,633.7L397.4,632.9L400.9,633.7L404.4,633.2L408.0,632.7L411.5,632.9L415.1,632.7L418.6,632.2L421.7,631.8L422.6,633.7L420.7,635.1L417.2,636.1L413.7,636.9L410.1,637.9L406.6,638.9L403.0,639.8L399.5,639.3L395.9,638.6L393.1,637.9Z M340.7,583.3L342.8,585.5L344.2,588.3L342.8,588.7L341.0,586.2Z M350.6,601.8L352.7,601.1L353.4,603.9L351.7,605.3L350.3,603.9Z M354.1,608.9L356.3,609.6L355.5,611.4Z M382.5,625.9L383.9,626.6L382.9,627.6Z M407.3,578.4L410.8,576.3L414.4,577.4L415.1,579.8L412.2,581.6L408.7,581.2Z M408.7,588.3L411.5,587.6L412.7,590.4L411.5,593.0L409.4,592.1Z M417.9,596.8L421.5,596.1L423.6,597.2L420.7,598.2Z M412.9,600.6L415.8,600.1L416.1,601.2Z M395.9,571.3L398.8,570.3L399.5,572.7L397.1,573.4Z M398.5,562.8L400.9,562.4L400.5,564.6Z M392.4,586.9L394.2,587.3L393.4,589.0Z M393.8,598.2L396.6,599.6L398.8,601.8L400.9,603.5L399.5,603.9L396.6,602.5L394.5,600.4Z M406.6,608.1L409.0,607.4L409.4,610.3L407.3,611.0Z M403.7,609.6L405.2,609.1L405.4,611.0L404.0,611.4Z M391.7,603.9L393.1,604.6L392.4,606.0Z M397.4,615.9L399.1,615.7L398.8,617.4Z M405.2,615.9L406.3,615.7L405.9,617.1Z M383.2,584.1L384.9,584.5L384.0,585.3Z M386.0,585.0L387.7,585.5L386.9,586.2Z M437.0,613.0L439.4,611.0L440.0,614.0L438.0,618.0L436.0,617.0Z M429.4,623.0L431.0,622.0L430.6,627.0L429.0,628.0Z M426.0,602.0L429.0,601.0L428.6,603.0Z" fill="#1f75b5"/>
<path d="M418.4,536.4L420.5,538.5L423.3,540.6L426.9,542.5L431.1,543.5L436.1,543.5L441.1,542.8L445.3,542.0L449.6,541.3L453.1,539.9L455.9,537.1L458.1,534.3L460.2,531.4L463.0,528.0L467.0,525.0L472.0,522.0L477.0,520.0L482.0,518.4L486.0,517.0L489.0,514.4L493.0,516.0L497.0,517.6L502.0,519.0L507.0,518.0L512.0,517.0L517.0,516.4L522.0,516.4L526.0,514.4L530.0,512.0L535.0,510.0L540.0,509.0L545.0,507.0L548.0,503.0L551.0,499.0L554.0,495.0L558.0,493.6L561.0,491.6L564.0,489.0L569.0,490.0L573.0,491.0L577.0,494.0L579.0,498.0L582.0,502.0L586.0,501.6L590.0,501.0L593.6,502.4L592.0,506.0L590.0,510.0L592.4,513.6L595.0,517.0L598.0,521.0L599.0,526.0L602.0,529.0L605.0,532.0L608.0,534.0L606.0,537.0L604.0,539.0L603.0,536.0L600.0,537.0L596.0,539.0L592.0,541.0L588.0,543.0L586.0,547.0L583.0,546.0L580.0,549.0L576.0,552.0L572.0,555.0L568.0,558.0L565.0,561.0L561.0,564.0L557.0,567.0L553.0,569.0L549.0,568.4L545.0,570.0L541.0,572.0L537.0,575.0L533.0,577.0L530.0,577.0L529.0,581.0L530.0,585.0L528.0,589.0L526.0,591.6L524.0,589.0L522.4,585.0L523.0,581.0L521.0,579.0L518.0,581.0L514.0,584.0L510.0,587.0L507.0,590.0L505.0,593.0L502.0,595.6L499.0,597.6L495.0,598.4L490.0,598.0L485.0,597.6L480.0,598.0L475.0,598.4L470.1,597.3L467.3,598.0L465.2,600.2L465.2,603.7L464.4,607.2L461.6,609.4L458.1,610.1L454.5,609.4L451.0,608.7L449.6,606.5L446.7,607.2L443.9,607.9L441.1,607.2L439.6,605.1L438.2,603.0L435.4,603.7L432.6,605.1L430.4,604.4L429.7,602.3L428.3,599.4L426.9,597.3L425.5,594.5L422.6,593.1L419.1,592.4L416.3,591.6L414.8,589.5L416.3,587.4L418.4,586.0L420.2,584.6L419.1,581.7L417.0,580.3L418.4,578.2L417.7,575.4L416.3,572.5L412.7,573.2L409.9,572.5L408.5,570.4L409.2,566.8L408.5,564.0L404.9,558.3L405.2,556.2L406.3,552.7L407.8,549.1L407.0,546.3L404.6,544.9L405.6,542.8L408.5,540.6L411.3,538.5L414.8,537.8Z" fill="#8ad1c4"/>
<path d="M416.3,554.8L418.4,552.7L421.2,551.0L424.8,549.8L429.0,548.7L433.3,548.1L437.5,548.4L442.5,548.1L440.4,549.8L437.5,551.3L435.4,553.4L436.1,555.5L433.3,556.2L430.4,556.9L426.9,557.6L424.1,559.1L421.2,560.0L418.4,560.5L416.3,559.1L414.8,558.3L413.4,559.8L411.3,561.9L409.9,563.3L408.5,564.0L408.0,562.9L410.6,560.5L412.7,558.3L414.8,556.2Z" fill="#ffffff"/>
<path d="M489.0,615.0L493.0,613.0L497.0,611.0L501.0,608.0L505.0,605.0L509.0,601.0L511.4,599.6L510.6,602.4L508.0,606.0L505.0,609.0L504.0,612.0L502.0,615.0L499.0,618.0L495.0,619.6L491.0,619.0L488.6,617.6Z" fill="#45a0c9"/>
</g>
<g><polyline class="fj" points="231,264.5 235,262 239.5,258.5"/>
<polyline class="fj" points="198.5,296.8 204,297.8 211,297.3"/>
<polyline class="fj" points="200.6,313.8 206,309.5 211,306"/>
<polyline class="fj" points="200,305 205,303"/>
<polyline class="fj" points="207,283 212,282"/>
<polyline class="fj" points="216,272 220,273"/>
<polyline class="fj" points="243,228 249,224"/>
<polyline class="fj" points="252,214 257,212"/>
<polyline class="fj" points="301,150.5 301.6,164"/>
<polyline class="fj" points="306.7,150 307.3,157.7"/>
<polyline class="fj" points="314.3,149.3 313.7,156.5"/>
<polyline class="fj" points="330,161 318.7,160.3"/>
<polyline class="fj" points="296,152.5 293.4,159"/>
<polyline class="fj" points="292.8,155.5 289,161.5"/>
<polyline class="fj" points="286.5,160 282.7,167.2"/>
<polyline class="fj" points="282,165 277.6,171.6"/>
<polyline class="fj" points="277.6,169 273.8,176"/>
<polyline class="fj" points="273.8,173 270.6,179.2"/>
<polyline class="fj" points="268,178 264,184"/>
<polyline class="fj" points="263,184 258,189"/>
<polyline class="fj" points="259,192 266,188"/></g>
<g><line x1="201.6" y1="383" x2="202.4" y2="411"/>
<line x1="175.6" y1="410" x2="182.4" y2="437"/>
<line x1="190" y1="458" x2="200" y2="454.6"/>
<line x1="287.6" y1="524.6" x2="285.5" y2="541"/>
<line x1="327.3" y1="541.6" x2="321" y2="551"/></g>
<g>
<text class="ld" x="65.4" y="220">44,8</text>
<text class="ld" x="87.5" y="395">21,9</text>
<text class="ld" x="138.5" y="412">43,7</text>
<text class="ll" x="273.5" y="255">49,0</text>
<text class="ll" x="230.5" y="297.5">48,9</text>
<text class="ll" x="339" y="255">58,3</text>
<text class="ll lg" x="227" y="371">49,0</text>
<text class="ld" x="195.6" y="382">45,3</text>
<text class="ld" x="177.5" y="403">55,3</text>
<text class="ll" x="232" y="440.5">50,5</text>
<text class="ll" x="173" y="465">48,6</text>
<text class="ll" x="164.5" y="497">57,3</text>
<text class="ld" x="217.6" y="498">32,1</text>
<text class="ld" x="283" y="453.5">43,4</text>
<text class="ll" x="274.4" y="487">56,1</text>
<text class="ll" x="323" y="420.5">50,0</text>
<text class="ll" x="318" y="465.5">48,6</text>
<text class="ld" x="323" y="487.5">47,5</text>
<text class="ld" x="41" y="580.5">43,7</text>
<text class="ld" x="93.6" y="580.5">44,9</text>
<text class="ll" x="247" y="526.5">50,7</text>
<text class="ld" x="346" y="318.5">44,8</text>
<text class="ld" x="350" y="341.5">44,3</text>
<text class="ld" x="345" y="371">40,8</text>
<text class="ld" x="407" y="466">40,4</text>
<text class="ld" x="379.6" y="496.5">40,4</text>
<text class="ld" x="390" y="540">39,0</text>
<text class="ld" x="283.4" y="507">48,2</text>
<text class="ld" x="315.3" y="530.5">44,6</text>
<text class="ld" x="340" y="525">43,3</text>
<text class="ld" x="347" y="547">31,5</text>
<text class="ld" x="356" y="560">38,9</text>
<text class="ld" x="342.4" y="574.5">30,3</text>
<text class="ll" x="361" y="588">49,8</text>
<text class="ld" x="283.4" y="553.5">48,9</text>
<text class="ld" x="313" y="561">43,4</text>
<text class="ld" x="496" y="555">32,6</text>
<text class="ld" x="499" y="617">41,2</text>
</g>
</svg>
<div class="frule"></div>
<div class="src">Quelle: IMF.</div>
<svg class="logo" viewBox="0 0 90 32"><path d="M3.2,15.2 L12.3,6.1 L21.4,15.2 M3.2,25 L12.3,15.9 L21.4,25" fill="none" stroke="#111" stroke-width="4" stroke-linejoin="miter"/></svg>
<div class="brand">Agenda<br>Austria</div>
</body></html>
